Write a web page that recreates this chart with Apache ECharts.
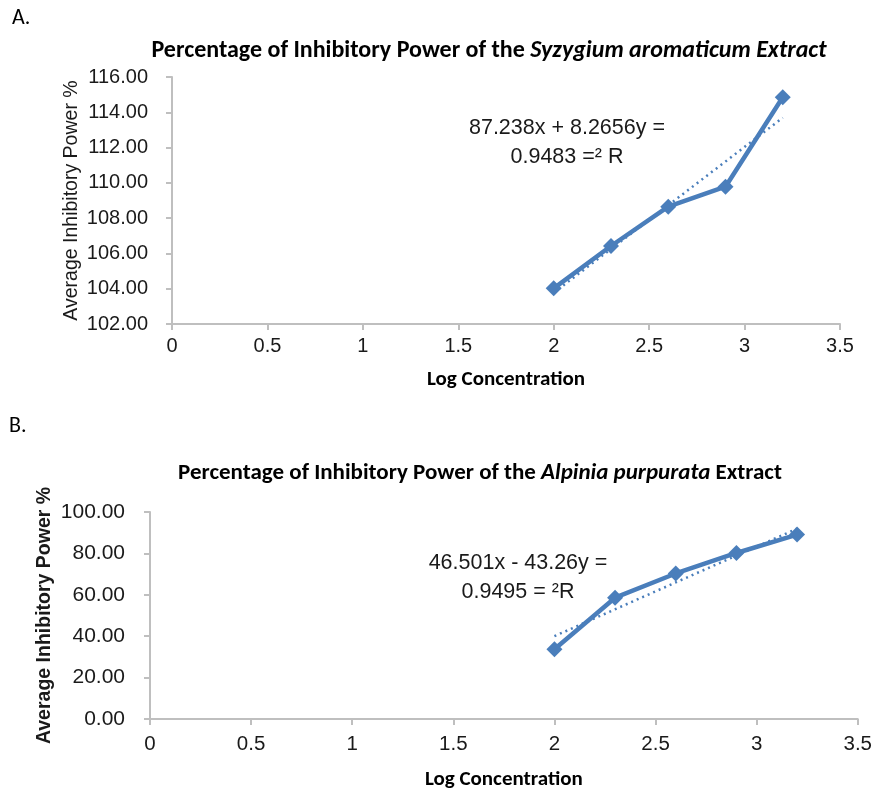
<!DOCTYPE html>
<html><head><meta charset="utf-8">
<script src="https://cdn.jsdelivr.net/npm/echarts@6/dist/echarts.min.js"></script>
<style>html,body{margin:0;padding:0;background:#fff}#c{width:875px;height:791px}</style>
</head><body><div id="c"></div>
<script>
// Chart A: Syzygium aromaticum
const logConcA = [2, 2.3, 2.6, 2.9, 3.2];
const powerA = [104.02, 106.42, 108.65, 109.78, 114.85];
const trendA = [[2, 103.77], [3.2, 113.69]];
const yTicksA = { min: 102, max: 116, interval: 2 };
// Chart B: Alpinia purpurata
const logConcB = [2, 2.3, 2.6, 2.9, 3.2];
const powerB = [33.7, 58.6, 70.3, 80.2, 89.1];
const trendB = [[2, 40.02], [3.2, 91.93]];
const yTicksB = { min: 0, max: 100, interval: 20 };
const xTicks = { min: 0, max: 3.5, interval: 0.5 };

const BLUE = '#4a7ebb';
const CAL = 'Carlito, Lato, "Open Sans", sans-serif';
const ARI = '"Liberation Sans", Arial, sans-serif';
const AXC = '#bfbfbf';

function xAx(gi, nameGap, fs, margin) {
  return {
    type: 'value', gridIndex: gi, min: xTicks.min, max: xTicks.max, interval: xTicks.interval,
    splitLine: { show: false },
    axisLine: { lineStyle: { color: AXC, width: 2 } },
    axisTick: { show: true, length: 6, lineStyle: { color: AXC, width: 2 } },
    axisLabel: { color: '#1a1a1a', fontFamily: ARI, fontSize: fs, margin: margin, formatter: v => String(v) },
    name: 'Log Concentration', nameLocation: 'middle', nameGap: nameGap, nameMoveOverlap: false,
    nameTextStyle: { fontFamily: CAL, fontWeight: 'bold', fontSize: 21, color: '#000' }
  };
}
function yAx(gi, t, nameGap, fs, margin, bold) {
  return {
    type: 'value', gridIndex: gi, min: t.min, max: t.max, interval: t.interval,
    splitLine: { show: false },
    axisLine: { show: true, lineStyle: { color: AXC, width: 2 } },
    axisTick: { show: true, length: 6, lineStyle: { color: AXC, width: 2 } },
    axisLabel: { color: '#1a1a1a', fontFamily: ARI, fontSize: fs, margin: margin, formatter: v => v.toFixed(2) },
    name: 'Average Inhibitory Power %', nameLocation: 'middle', nameGap: nameGap, nameRotate: 90,
    nameMoveOverlap: false,
    nameTextStyle: { fontFamily: ARI, fontWeight: bold ? 'bold' : 'normal', fontSize: 19.5, color: '#1a1a1a' }
  };
}
function lineSeries(xi, xs, ys) {
  return {
    type: 'line', xAxisIndex: xi, yAxisIndex: xi,
    data: xs.map((x, i) => [x, ys[i]]),
    symbol: 'diamond', symbolSize: 16, itemStyle: { color: BLUE },
    lineStyle: { color: BLUE, width: 4.5 }, z: 3
  };
}
function trendSeries(xi, pts) {
  return {
    type: 'line', xAxisIndex: xi, yAxisIndex: xi, data: pts, symbol: 'none',
    lineStyle: { color: BLUE, width: 2.5, type: [2, 4] }, z: 2
  };
}
function titleRich(normal, italic, tail, top, left, fs) {
  return {
    text: '{n|' + normal + '}{i|' + italic + '}' + (tail ? '{n|' + tail + '}' : ''),
    left: left, top: top, textAlign: 'center',
    textStyle: {
      rich: {
        n: { fontFamily: CAL, fontWeight: 'bold', fontSize: fs, color: '#000' },
        i: { fontFamily: CAL, fontWeight: 'bold', fontStyle: 'italic', fontSize: fs, color: '#000' }
      }
    }
  };
}
const chart = echarts.init(document.getElementById('c'), null, { renderer: 'canvas' });
chart.setOption({
  backgroundColor: '#fff',
  animation: false,
  title: [
    titleRich('Percentage of Inhibitory Power of the ', 'Syzygium aromaticum Extract', '', 34, 484, 24),
    titleRich('Percentage of Inhibitory Power of the ', 'Alpinia purpurata', ' Extract', 457, 475, 23)
  ],
  grid: [
    { left: 172, top: 77, width: 668, height: 247 },
    { left: 150, top: 512, width: 708, height: 208 }
  ],
  xAxis: [xAx(0, 45, 20, 12), xAx(1, 50, 20.5, 15)],
  yAxis: [yAx(0, yTicksA, 90, 20, 24, false), yAx(1, yTicksB, 95, 21, 25, true)],
  series: [
    trendSeries(0, trendA), lineSeries(0, logConcA, powerA),
    trendSeries(1, trendB), lineSeries(1, logConcB, powerB)
  ],
  graphic: [
    { type: 'text', left: 12, top: 7, style: { text: 'A.', font: '22px ' + CAL, fill: '#000' } },
    { type: 'text', left: 9, top: 415, style: { text: 'B.', font: '22px ' + CAL, fill: '#000' } },
    { type: 'text', x: 567, y: 114, style: { text: '87.238x + 8.2656y =\n0.9483 =² R', font: '21.5px ' + ARI, fill: '#1a1a1a', align: 'center', lineHeight: 29 } },
    { type: 'text', x: 518, y: 549, style: { text: '46.501x - 43.26y =\n0.9495 = ²R', font: '21.5px ' + ARI, fill: '#1a1a1a', align: 'center', lineHeight: 29 } }
  ]
});
</script></body></html>
